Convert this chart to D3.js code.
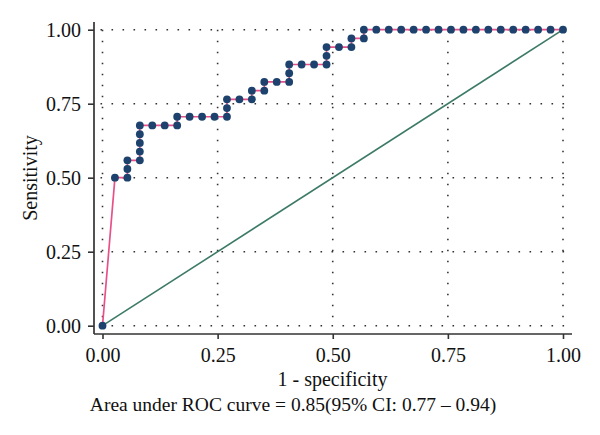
<!DOCTYPE html>
<html>
<head>
<meta charset="utf-8">
<script src="https://cdn.jsdelivr.net/npm/d3@7"></script>
<style>
  body { margin: 0; background: #fff; }
  svg text { font-family: "Liberation Serif", "Times New Roman", serif; fill: #111; }
</style>
</head>
<body>
<svg id="chart" width="600" height="435"></svg>
<script>
'use strict';

// ROC points, as counts (37 negatives, 34 positives)
const N_NEG = 37;
const N_POS = 34;
const falsePos = [0, 1, 2, 2, 2, 3, 3, 3, 3, 3, 4, 5, 6, 6, 7, 8, 9, 10, 10, 10,
    11, 12, 12, 13, 13, 14, 15, 15, 15, 16, 17, 18, 18, 18, 19, 20, 20, 21, 21,
    22, 23, 24, 25, 26, 27, 28, 29, 30, 31, 32, 33, 34, 35, 36, 37];
const truePos = [0, 17, 17, 18, 19, 19, 20, 21, 22, 23, 23, 23, 23, 24, 24, 24, 24, 24, 25, 26,
    26, 26, 27, 27, 28, 28, 28, 29, 30, 30, 30, 30, 31, 32, 32, 32, 33, 33, 34,
    34, 34, 34, 34, 34, 34, 34, 34, 34, 34, 34, 34, 34, 34, 34, 34];
const xTicks = [0, 0.25, 0.5, 0.75, 1];
const yTicks = [0, 0.25, 0.5, 0.75, 1];
const xLabel = '1 - specificity';
const yLabel = 'Sensitivity';
const note = 'Area under ROC curve = 0.85(95% CI: 0.77 \u2013 0.94)';

const svg = d3.select('#chart');

const x = d3.scaleLinear().domain([0, 1]).range([102.5, 563]);
const y = d3.scaleLinear().domain([0, 1]).range([325.7, 29.7]);

// plot region edges (axes sit a little outside the data range)
const PLOT = {left: 94, right: 572, top: 22, bottom: 334};

const points = falsePos.map((d, i) => ({fpr: d / N_NEG, tpr: truePos[i] / N_POS}));

//#region grid
const grid = svg.append('g')
    .attr('stroke', '#333')
    .attr('stroke-width', 1.6)
    .attr('stroke-dasharray', '1.6 9.4');

grid.selectAll('.hgrid')
    .data(yTicks)
    .enter()
    .append('line')
    .attr('x1', x(0) - 2)
    .attr('x2', PLOT.right)
    .attr('y1', d => y(d))
    .attr('y2', d => y(d));

grid.selectAll('.vgrid')
    .data(xTicks)
    .enter()
    .append('line')
    .attr('x1', d => x(d))
    .attr('x2', d => x(d))
    .attr('y1', y(1))
    .attr('y2', y(0));
//#endregion

//#region axes
const yAxis = d3.axisLeft(y)
    .tickValues(yTicks)
    .tickFormat(d3.format('.2f'))
    .tickSize(6)
    .tickPadding(7);

const xAxis = d3.axisBottom(x)
    .tickValues(xTicks)
    .tickFormat(d3.format('.2f'))
    .tickSize(5)
    .tickPadding(9);

const gy = svg.append('g').attr('transform', `translate(${PLOT.left},0)`).call(yAxis);
const gx = svg.append('g').attr('transform', `translate(0,${PLOT.bottom})`).call(xAxis);

[gx, gy].forEach(g => {
    g.select('.domain').remove();
    g.selectAll('.tick line').attr('stroke', '#333').attr('stroke-width', 1.6);
    g.selectAll('.tick text')
        .style('font-family', '"Liberation Serif", serif')
        .style('font-size', '20px')
        .attr('fill', '#111');
});

svg.append('line')
    .attr('x1', PLOT.left).attr('x2', PLOT.left)
    .attr('y1', PLOT.top).attr('y2', PLOT.bottom)
    .attr('stroke', '#333').attr('stroke-width', 1.7);

svg.append('line')
    .attr('x1', PLOT.left).attr('x2', PLOT.right)
    .attr('y1', PLOT.bottom).attr('y2', PLOT.bottom)
    .attr('stroke', '#333').attr('stroke-width', 1.7);
//#endregion

//#region lines and points
svg.append('line')
    .attr('x1', x(0)).attr('y1', y(0))
    .attr('x2', x(1)).attr('y2', y(1))
    .attr('stroke', '#3d7a68')
    .attr('stroke-width', 1.6);

const rocLine = d3.line()
    .x(d => x(d.fpr))
    .y(d => y(d.tpr));

svg.append('path')
    .datum(points)
    .attr('d', rocLine)
    .attr('fill', 'none')
    .attr('stroke', '#e8508a')
    .attr('stroke-width', 1.7);

svg.selectAll('.pt')
    .data(points)
    .enter()
    .append('circle')
    .attr('class', 'pt')
    .attr('cx', d => x(d.fpr))
    .attr('cy', d => y(d.tpr))
    .attr('r', 3.9)
    .attr('fill', '#1d426d');
//#endregion

//#region titles
svg.append('text')
    .attr('transform', `translate(37,178) rotate(-90)`)
    .attr('text-anchor', 'middle')
    .style('font-size', '20px')
    .text(yLabel);

svg.append('text')
    .attr('x', 332.5)
    .attr('y', 386)
    .attr('text-anchor', 'middle')
    .style('font-size', '20px')
    .text(xLabel);

svg.append('text')
    .attr('x', 293)
    .attr('y', 411)
    .attr('text-anchor', 'middle')
    .style('font-size', '19.5px')
    .text(note);
//#endregion
</script>
</body>
</html>
